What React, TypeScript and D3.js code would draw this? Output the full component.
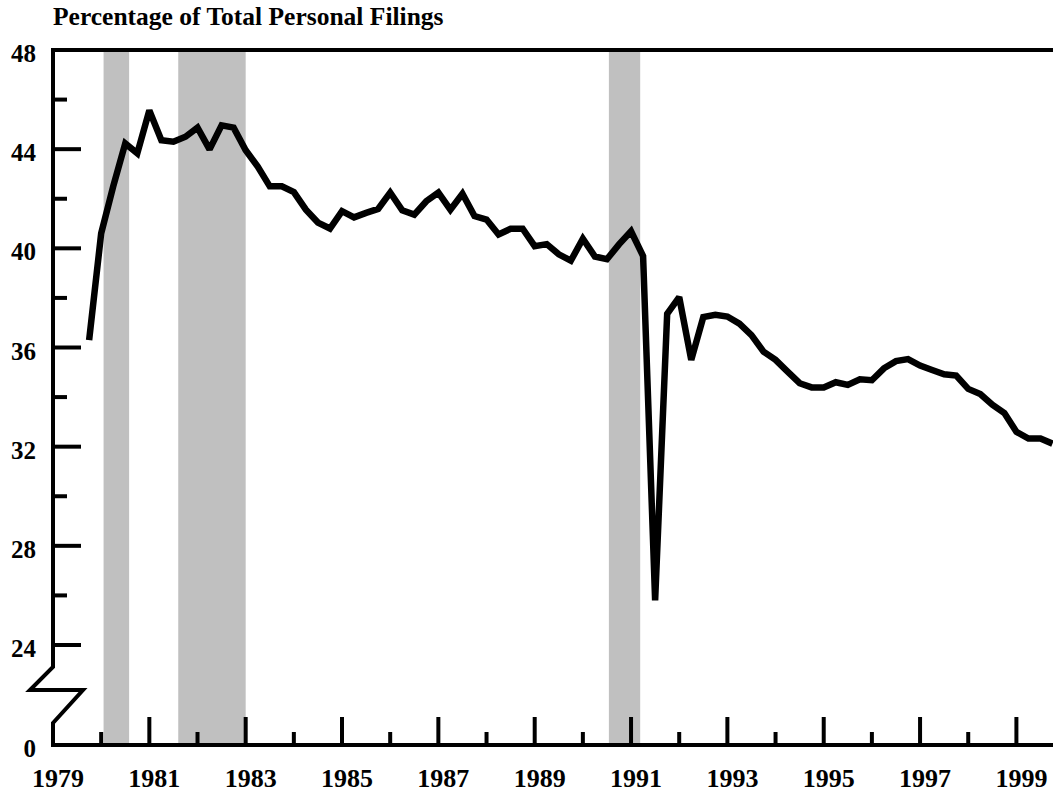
import React, { useEffect, useRef } from 'react';
import * as d3 from 'd3';

// quarterly share, starting 1979 Q4
const startYear = 1979.75;
const shares = [
  36.3, 40.6, 42.5, 44.23, 43.83, 45.56, 44.36, 44.3, 44.5, 44.87,
  43.99, 44.96, 44.87, 43.96, 43.3, 42.5, 42.5, 42.27, 41.56, 41.04,
  40.8, 41.5, 41.25, 41.43, 41.59, 42.25, 41.53, 41.36, 41.9, 42.25,
  41.56, 42.2, 41.3, 41.16, 40.56, 40.79, 40.79, 40.09, 40.17, 39.76,
  39.5, 40.39, 39.67, 39.56, 40.16, 40.69, 39.69, 25.8, 37.36, 38.03,
  35.5, 37.23, 37.32, 37.25, 36.96, 36.5, 35.83, 35.5, 35.03, 34.56,
  34.39, 34.39, 34.6, 34.49, 34.72, 34.68, 35.16, 35.45, 35.53, 35.27,
  35.09, 34.92, 34.87, 34.33, 34.12, 33.69, 33.36, 32.6, 32.33, 32.33,
  32.12,
];

// recession periods (start, end) in fractional years
const recessionStart = [1980.05, 1981.6, 1990.54];
const recessionEnd = [1980.58, 1983.0, 1991.19];

const yearLabels = [1979, 1981, 1983, 1985, 1987, 1989, 1991, 1993, 1995, 1997, 1999];
const yearTicks = d3.range(1980, 2000);
const yTickLabels = [48, 44, 40, 36, 32, 28, 24];
const yMinorTicks = [46, 42, 38, 34, 30, 26];

const W = 1053;
const H = 794;
const FONT = '"Liberation Serif", "Times New Roman", serif';

const App: React.FC = () => {
  const ref = useRef<SVGSVGElement | null>(null);

  useEffect(() => {
    if (!ref.current) return;
    const svg = d3.select(ref.current);
    svg.selectAll('*').remove();

    const axisX = 53;
    const baseY = 745;
    const x = d3.scaleLinear().domain([1979, 1999]).range([axisX, 1016.4]);
    const y = d3.scaleLinear().domain([24, 48]).range([645, 50]);

    // recession shading
    svg.append('g')
      .selectAll('rect')
      .data(recessionStart.map((s, i) => [s, recessionEnd[i]]))
      .enter()
      .append('rect')
      .attr('x', d => x(d[0]))
      .attr('width', d => x(d[1]) - x(d[0]))
      .attr('y', y(48))
      .attr('height', baseY - y(48))
      .attr('fill', '#c0c0c0');

    // top rule
    svg.append('line')
      .attr('x1', axisX - 2).attr('x2', W)
      .attr('y1', y(48)).attr('y2', y(48))
      .attr('stroke', '#000').attr('stroke-width', 4);

    // bottom axis
    svg.append('line')
      .attr('x1', axisX - 2).attr('x2', W)
      .attr('y1', baseY).attr('y2', baseY)
      .attr('stroke', '#000').attr('stroke-width', 4);

    // vertical axis with break
    const breakPath = d3.path();
    breakPath.moveTo(axisX, y(48) - 2);
    breakPath.lineTo(axisX, 667);
    breakPath.lineTo(30, 690);
    breakPath.lineTo(83, 690);
    breakPath.lineTo(axisX, 723);
    breakPath.lineTo(axisX, baseY + 2);
    svg.append('path')
      .attr('d', breakPath.toString())
      .attr('fill', 'none')
      .attr('stroke', '#000')
      .attr('stroke-width', 4)
      .attr('stroke-linejoin', 'miter');

    // y ticks
    const yt = svg.append('g').attr('stroke', '#000').attr('stroke-width', 4);
    yTickLabels.filter(v => v !== 48).forEach(v => {
      yt.append('line').attr('x1', axisX).attr('x2', axisX + 28).attr('y1', y(v)).attr('y2', y(v));
    });
    yMinorTicks.forEach(v => {
      yt.append('line').attr('x1', axisX).attr('x2', axisX + 14).attr('y1', y(v)).attr('y2', y(v));
    });

    // y labels
    const labelY = yTickLabels.map(v => ({ v, py: y(v) })).concat([{ v: 0, py: baseY }]);
    svg.append('g')
      .selectAll('text')
      .data(labelY)
      .enter()
      .append('text')
      .attr('x', 36)
      .attr('y', d => d.py + 12)
      .attr('text-anchor', 'end')
      .attr('font-family', FONT)
      .attr('font-weight', 'bold')
      .attr('font-size', 25)
      .text(d => String(d.v));

    // x ticks
    const xt = svg.append('g').attr('stroke', '#000').attr('stroke-width', 4);
    yearTicks.forEach(yr => {
      const tall = yr % 2 === 1;
      xt.append('line')
        .attr('x1', x(yr)).attr('x2', x(yr))
        .attr('y1', baseY).attr('y2', baseY - (tall ? 28 : 13));
    });

    // x labels
    svg.append('g')
      .selectAll('text')
      .data(yearLabels)
      .enter()
      .append('text')
      .attr('x', d => x(d) + 5)
      .attr('y', 787)
      .attr('text-anchor', 'middle')
      .attr('font-family', FONT)
      .attr('font-weight', 'bold')
      .attr('font-size', 26)
      .text(d => String(d));

    // title
    svg.append('text')
      .attr('x', axisX)
      .attr('y', 25)
      .attr('font-family', FONT)
      .attr('font-weight', 'bold')
      .attr('font-size', 25.5)
      .text('Percentage of Total Personal Filings');

    // series line
    const line = d3.line<number>()
      .x((_, i) => x(startYear + i * 0.25))
      .y(d => y(d));
    svg.append('path')
      .datum(shares)
      .attr('fill', 'none')
      .attr('stroke', '#000')
      .attr('stroke-width', 6.5)
      .attr('stroke-linejoin', 'miter')
      .attr('stroke-miterlimit', 2)
      .attr('d', line);
  }, []);

  return (
    <svg
      ref={ref}
      width={W}
      height={H}
      style={{ position: 'absolute', left: 0, top: 0, background: '#fff' }}
    />
  );
};

export default App;
